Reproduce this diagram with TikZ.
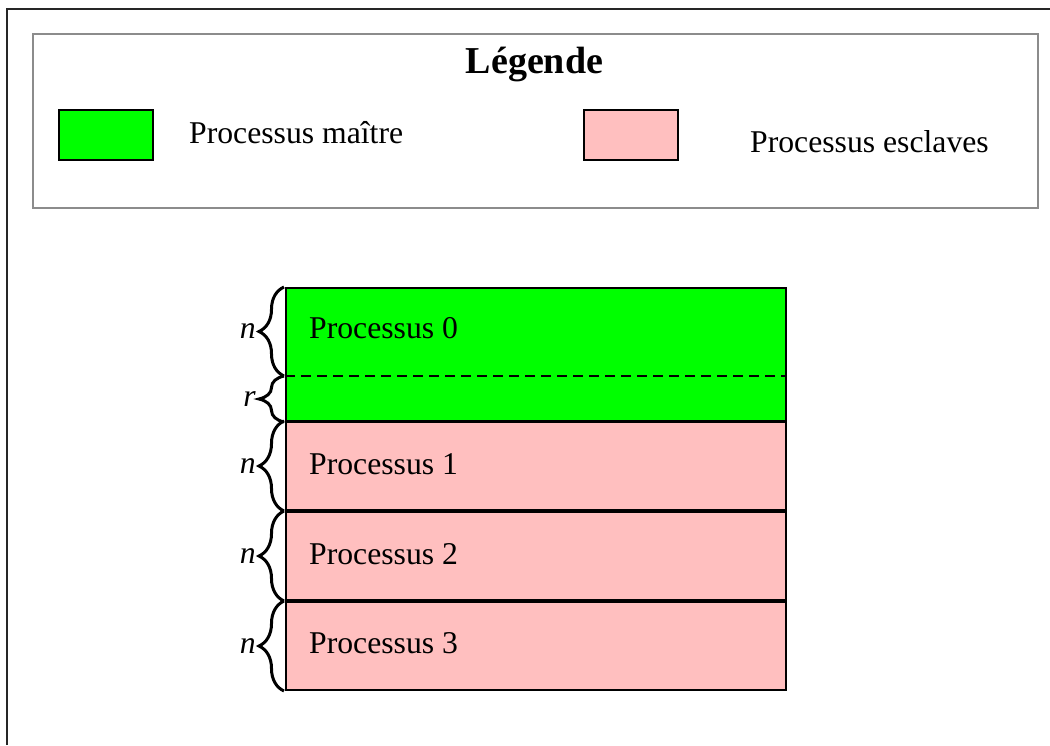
\documentclass[tikz,border=0pt]{standalone}
\usepackage{fontspec}
\setmainfont{Liberation Serif}
\usetikzlibrary{decorations.pathreplacing,calc}
\definecolor{mgreen}{RGB}{0,255,0}
\definecolor{mpink}{RGB}{255,191,191}
\definecolor{lgray}{RGB}{140,140,140}
\begin{document}
\begin{tikzpicture}[x=1pt,y=-1pt,
  txt/.style={inner sep=0pt,anchor=base west,font=\fontsize{31.7}{38}\selectfont},
  proc/.style={draw=black,line width=2pt,anchor=north west,inner sep=0pt,minimum width=500pt},
  swatch/.style={draw=black,line width=1.8pt,anchor=north west,inner sep=0pt,minimum width=94pt,minimum height=50pt},
  bracestyle/.style={decorate,decoration={brace,amplitude=25pt,raise=1pt},line width=3pt},
  lbl/.style={inner sep=0pt,anchor=east,font=\fontsize{31.7}{38}\selectfont\itshape}]
\useasboundingbox (0,0) rectangle (1050,745);
\fill[white] (0,0) rectangle (1050,745);
% outer frame
\coordinate (fa) at (7,745);
\coordinate (fb) at (7,9);
\coordinate (fc) at (1050,9);
\draw[line width=1.6pt,black!85] (fa) -- (fb) -- (fc);
% legend
\node[draw=lgray,line width=2.2pt,anchor=north west,inner sep=0pt,minimum width=1005pt,minimum height=174pt] (leg) at (32,33) {};
\node[inner sep=0pt,anchor=base,font=\fontsize{38}{44}\selectfont\bfseries] (legt) at (534.5,73) {Légende};
\node[swatch,fill=mgreen] (sg) at (58,109) {};
\node[txt] (tg) at (189,143) {Processus maître};
\node[swatch,fill=mpink] (sp) at (583,109) {};
\node[txt] (tp) at (750,152) {Processus esclaves};
% process blocks
\node[proc,fill=mgreen,minimum height=133pt] (p0) at (285,287) {};
\node[proc,fill=mpink,minimum height=88pt] (p1) at (285,421) {};
\node[proc,fill=mpink,minimum height=88pt] (p2) at (285,511) {};
\node[proc,fill=mpink,minimum height=88pt] (p3) at (285,601) {};
\coordinate (dl) at (285,376);
\coordinate (dr) at (785,376);
\draw[line width=2pt,dash pattern=on 10pt off 6pt] (dl) -- (dr);
\node[txt] (t0) at (309,338) {Processus 0};
\node[txt] (t1) at (309,474) {Processus 1};
\node[txt] (t2) at (309,564) {Processus 2};
\node[txt] (t3) at (309,653) {Processus 3};
% braces
\draw[bracestyle] (dl) -- (p0.north west);
\draw[bracestyle] (p0.south west) -- (dl);
\draw[bracestyle] (p1.south west) -- (p1.north west);
\draw[bracestyle] (p2.south west) -- (p2.north west);
\draw[bracestyle] (p3.south west) -- (p3.north west);
\node[lbl] (ln0) at ($(dl)!0.5!(p0.north west)+(-29,0)$) {n};
\node[lbl] (lr0) at ($(p0.south west)!0.5!(dl)+(-29,0)$) {r};
\node[lbl] (ln1) at ($(p1.south west)!0.5!(p1.north west)+(-29,0)$) {n};
\node[lbl] (ln2) at ($(p2.south west)!0.5!(p2.north west)+(-29,0)$) {n};
\node[lbl] (ln3) at ($(p3.south west)!0.5!(p3.north west)+(-29,0)$) {n};
\end{tikzpicture}
\end{document}
